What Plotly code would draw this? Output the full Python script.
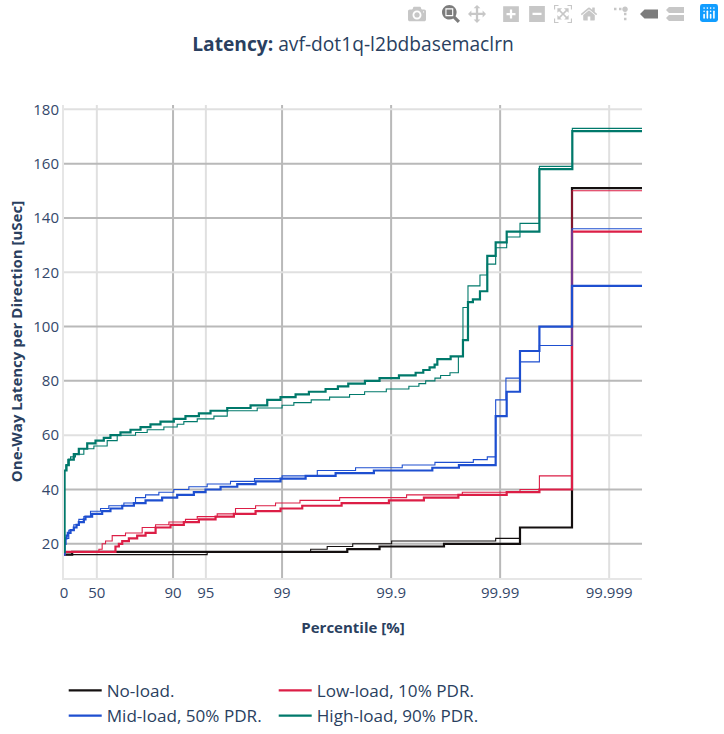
import plotly.graph_objects as go

BLACK = "#141010"
RED = "#dc1e46"
BLUE = "#1e4fd0"
GREEN = "#00796b"

# x values are "nines": log10(100 / (100 - percentile)); y values are latency in uSec.
noload_thick_x = [0, 0.075, 2.598, 2.894, 3.485, 4.182, 4.659, 5.301]
noload_thick_y = [16, 17, 18, 19, 20, 26, 151, 151]
noload_thin_x = [0, 1.313, 2.262, 2.414, 2.648, 3.005, 3.959, 4.182, 4.659, 5.301]
noload_thin_y = [16, 17, 18, 19, 20, 21, 22, 26, 151, 151]

low_thick_x = [0, 0.005, 0.472, 0.503, 0.534, 0.595, 0.671, 0.748, 0.84, 0.977, 1.099, 1.237, 1.39,
               1.558, 1.757, 1.986, 2.185, 2.546, 2.98, 3.301, 3.617, 4.06, 4.36, 4.659, 5.301]
low_thick_y = [16, 17, 19, 20, 21, 22, 23, 24, 26, 27, 28, 29, 30,
               31, 32, 33, 34, 35, 36, 37, 38, 39, 40, 135, 135]
low_thin_x = [0, 0.005, 0.32, 0.35, 0.381, 0.442, 0.564, 0.717, 0.84, 0.962, 1.114, 1.222, 1.405,
              1.573, 1.757, 1.94, 2.164, 2.528, 3.142, 3.653, 4.182, 4.36, 4.659, 5.301]
low_thin_y = [16, 17, 18, 20, 21, 23, 24, 26, 27, 28, 29, 30, 31,
              33, 34, 35, 36, 37, 38, 39, 40, 45, 150, 150]

mid_thick_x = [0, 0.005, 0.014, 0.023, 0.035, 0.06, 0.09, 0.115, 0.136, 0.182, 0.197, 0.258, 0.35, 0.426,
               0.534, 0.641, 0.748, 0.9, 1.038, 1.191, 1.298, 1.436, 1.589, 1.757, 1.986, 2.216,
               2.491, 2.842, 3.378, 3.622, 3.959, 4.06, 4.182, 4.36, 4.659, 5.301]
mid_thick_y = [16, 20, 22, 23, 24, 25, 26, 27, 28, 29, 30, 31, 32, 33,
               34, 35, 36, 37, 38, 39, 40, 41, 42, 43, 44, 45,
               46, 47, 48, 49, 67, 76, 91, 100, 115, 115]
mid_thin_x = [0, 0.005, 0.014, 0.044, 0.09, 0.136, 0.182, 0.243, 0.335, 0.411, 0.549, 0.656, 0.748, 0.87,
              1.007, 1.145, 1.313, 1.527, 1.747, 2.0, 2.323, 2.674, 3.102, 3.402, 3.754, 3.882,
              3.959, 4.053, 4.182, 4.36, 4.659, 5.301]
mid_thin_y = [16, 20, 22, 25, 27, 29, 30, 32, 33, 34, 35, 37, 38, 39,
              40, 41, 42, 43, 44, 45, 47, 48, 49, 50, 51, 52,
              73, 81, 87, 93, 136, 136]

high_thick_x = [0, 0.005, 0.023, 0.044, 0.09, 0.136, 0.213, 0.289, 0.365, 0.426, 0.518, 0.61, 0.702,
                0.793, 0.885, 1.007, 1.114, 1.237, 1.344, 1.497, 1.711, 1.864, 1.986, 2.124, 2.246,
                2.399, 2.512, 2.607, 2.76, 2.894, 3.072, 3.225, 3.295, 3.353, 3.399, 3.424, 3.546,
                3.659, 3.705, 3.75, 3.815, 3.882, 3.959, 4.06, 4.36, 4.662, 5.301]
high_thick_y = [17, 47, 49, 51, 53, 55, 57, 58, 59, 60, 61, 62, 63,
                64, 65, 66, 67, 68, 69, 70, 71, 73, 74, 75, 76,
                77, 78, 79, 80, 81, 82, 83, 84, 85, 86, 88, 89,
                95, 109, 110, 113, 126, 131, 135, 158, 172, 172]
high_thin_x = [0, 0.005, 0.017, 0.035, 0.06, 0.105, 0.182, 0.274, 0.396, 0.488, 0.656, 0.763, 0.916,
               1.038, 1.099, 1.222, 1.375, 1.497, 1.772, 2.0, 2.108, 2.267, 2.436, 2.619, 2.757,
               2.956, 3.163, 3.255, 3.317, 3.402, 3.454, 3.54, 3.617, 3.659, 3.705, 3.815, 3.882,
               3.959, 4.06, 4.182, 4.36, 4.662, 5.301]
high_thin_y = [17, 47, 49, 51, 52, 53, 55, 56, 58, 60, 61, 62, 63,
               64, 65, 66, 67, 69, 70, 71, 72, 73, 74, 75, 76,
               77, 78, 79, 80, 81, 82, 83, 89, 107, 115, 119, 123,
               129, 133, 138, 159, 173, 173]

x_tickvals = [1, 2, 10, 20, 100, 1000, 10000, 100000]
x_ticktext = ["0", "50", "90", "95", "99", "99.9", "99.99", "99.999"]
y_ticks = [20, 40, 60, 80, 100, 120, 140, 160, 180]
heavy_x = [10, 100, 1000, 10000]
heavy_y = [20, 40, 80, 100, 140, 160]

series = [
    ("No-load.", BLACK, noload_thick_x, noload_thick_y, noload_thin_x, noload_thin_y),
    ("Low-load, 10% PDR.", RED, low_thick_x, low_thick_y, low_thin_x, low_thin_y),
    ("Mid-load, 50% PDR.", BLUE, mid_thick_x, mid_thick_y, mid_thin_x, mid_thin_y),
    ("High-load, 90% PDR.", GREEN, high_thick_x, high_thick_y, high_thin_x, high_thin_y),
]

fig = go.Figure()
for name, color, xa, ya, xb, yb in series:
    fig.add_trace(go.Scatter(
        x=[10 ** v for v in xa], y=ya, name=name, legendgroup=name, showlegend=True,
        mode="lines", line=dict(color=color, width=2.2, shape="hv"),
    ))
    fig.add_trace(go.Scatter(
        x=[10 ** v for v in xb], y=yb, name=name, legendgroup=name, showlegend=False,
        mode="lines", line=dict(color=color, width=1.1, shape="hv"),
    ))

for v in x_tickvals[1:]:
    fig.add_shape(type="line", xref="x", yref="paper", x0=v, x1=v, y0=0, y1=1, layer="below",
                  line=dict(color="#b9b9b9" if v in heavy_x else "#e0e0e0", width=2))
for v in y_ticks:
    fig.add_shape(type="line", xref="paper", yref="y", x0=0, x1=1, y0=v, y1=v, layer="below",
                  line=dict(color="#b9b9b9" if v in heavy_y else "#e0e0e0", width=2))

fig.update_layout(
    width=724, height=734,
    font=dict(family="Open Sans, sans-serif", color="#2a3f5f"),
    title=dict(text="<b>Latency:</b> avf-dot1q-l2bdbasemaclrn", x=0.5, xanchor="center",
               xref="paper", y=0.939, yanchor="middle", font=dict(size=19.2)),
    paper_bgcolor="white", plot_bgcolor="white",
    margin=dict(l=63.5, r=82, t=104.5, b=156),
    hovermode="closest",
    legend=dict(orientation="h", xref="container", x=0.088, xanchor="left",
                yref="container", y=0.0835, yanchor="top", font=dict(size=17.1),
                itemwidth=33, entrywidth=162, entrywidthmode="pixels", tracegroupgap=0),
    xaxis=dict(type="log", range=[0, 5.301], tickmode="array", tickvals=x_tickvals, ticktext=x_ticktext,
               automargin=False,
               title=dict(text="<b>Percentile [%]</b>", font=dict(size=15), standoff=21),
               tickfont=dict(size=15, color="#34486a"),
               showgrid=False, zeroline=False,
               showline=True, linecolor="#e6e6e6", linewidth=2, ticks=""),
    yaxis=dict(tickmode="array", tickvals=y_ticks, range=[7.4, 181.6], automargin=False,
               title=dict(text="<b>One-Way Latency per Direction [uSec]</b>", font=dict(size=15), standoff=7),
               tickfont=dict(size=15, color="#34486a"),
               showgrid=False, zeroline=False,
               showline=True, linecolor="#e6e6e6", linewidth=2, ticks=""),
)

post = """
document.body.style.margin='0';
var s=document.createElement('style');
s.textContent='.js-plotly-plot .plotly .modebar-btn{font-size:18px!important}'
 +'.modebar-btn--logo svg rect,.modebar-btn--logo svg circle{fill:#fff!important}'
 +'.modebar-btn--logo svg rect:first-of-type{fill:#119dff!important}';
document.head.appendChild(s);
"""
fig.write_html("out.html",
               config=dict(displayModeBar=True,
                           modeBarButtonsToAdd=["togglespikelines", "v1hovermode"]),
               post_script=post)
